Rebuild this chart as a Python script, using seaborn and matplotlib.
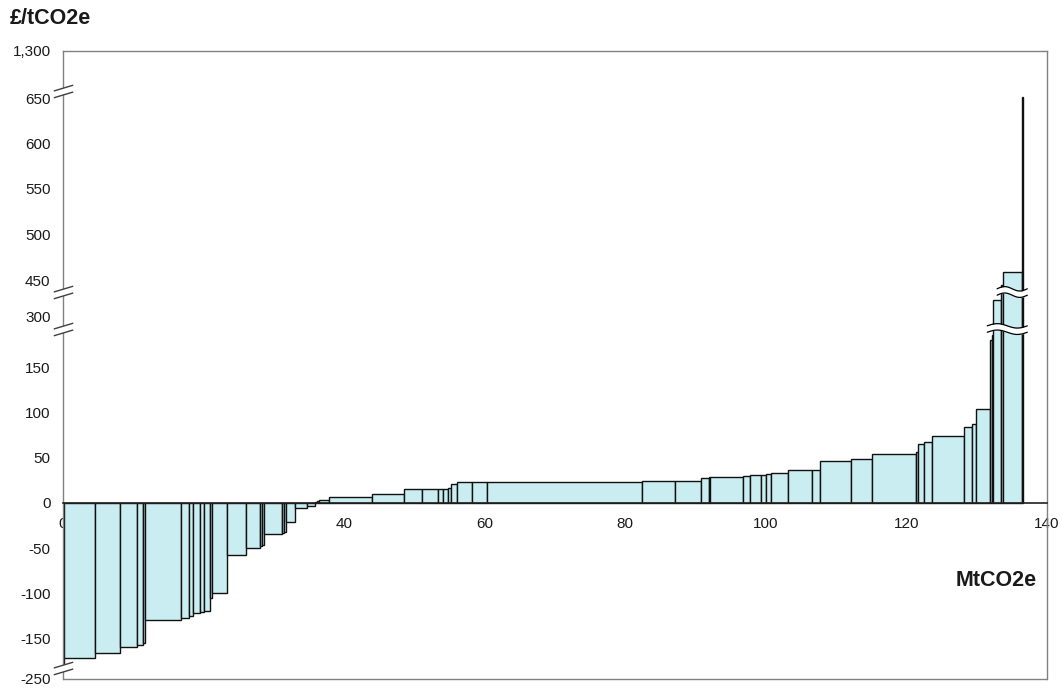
import numpy as np
import pandas as pd
import matplotlib
matplotlib.use("Agg")
import matplotlib.pyplot as plt
from matplotlib.path import Path
import seaborn as sns

# abatement of each measure (MtCO2e), in cost order
abatement = [0.18, 4.32, 3.55, 2.48, 0.85, 0.33, 5.08, 1.13, 0.57, 0.94,
             0.67, 0.75, 0.39, 2.09, 2.74, 1.90, 0.28, 0.29, 2.61, 0.33,
             0.24, 1.22, 1.74, 1.21, 0.18, 0.29, 1.52, 6.07, 4.53, 2.59,
             2.27, 0.66, 0.71, 0.48, 0.80, 2.27, 2.05, 22.05, 4.70, 3.78,
             1.05, 0.19, 4.69, 1.04, 1.56, 0.67, 0.67, 2.50, 3.33, 1.18,
             4.46, 2.98, 6.18, 0.28, 0.94, 1.14, 4.55, 1.05, 0.57, 2.08,
             0.17, 0.21, 1.18, 0.20, 2.71, 0.18]
# cost of each measure (£/tCO2e)
cost = [-212, -198, -185, -172, -166, -162, -130, -127, -125, -122,
        -121, -120, -105, -100, -58, -50, -48, -46, -34, -33,
        -32, -21, -6, -3.5, 1.5, 2.6, 3.7, 7, 10.2, 15.5,
        15.2, 15.5, 15.8, 17, 20.5, 23, 23, 23.2, 24, 24,
        27.7, 28.3, 28.8, 30, 31, 31.2, 32.5, 32.7, 36, 36.5,
        47, 49, 54.6, 56, 65, 67, 74.6, 84.5, 88, 104.3,
        230, 245, 367, 430, 459, 665]

x_ticks = [0, 20, 40, 60, 80, 100, 120, 140]
y_ticks = [-250, -150, -100, -50, 0, 50, 100, 150, 300, 450, 500, 550, 600, 650, 1300]
y_labels = ["-250", "-150", "-100", "-50", "0", "50", "100", "150", "300",
            "450", "500", "550", "600", "650", "1,300"]
axis_breaks = [750, 400, 262, -222]

# broken y axis -> piecewise linear scale
seg_vals = [-250, -150, 150, 300, 450, 650, 1300]
seg_pos = [0, 40.5, 311.5, 363, 399, 581, 628]


def fwd(v):
    return np.interp(v, seg_vals, seg_pos)


def inv(p):
    return np.interp(p, seg_pos, seg_vals)


sns.set_theme(style="white")
plt.rcParams["font.family"] = ["Liberation Sans", "DejaVu Sans"]

fig = plt.figure(figsize=(10.62, 6.88), dpi=100)
ax = fig.add_axes([63 / 1062, 9 / 688, 984 / 1062, 628 / 688])
ax.set_yscale("function", functions=(fwd, inv))

edges = np.concatenate([[0], np.cumsum(abatement)])
df = pd.DataFrame({"mid": edges[:-1] + np.array(abatement) / 2, "cost": cost})
sns.histplot(data=df, x="mid", weights="cost", bins=edges.tolist(), stat="count",
             color="#C9EDF0", edgecolor="#111111", linewidth=1.0, alpha=1, ax=ax)

ax.set_xlim(0, 140)
ax.set_ylim(-250, 1300)
ax.set_xticks(x_ticks)
ax.set_yticks(y_ticks)
ax.set_yticklabels(y_labels)
ax.set_xlabel("")
ax.set_ylabel("")
ax.tick_params(axis="both", length=0, labelsize=11, colors="#1a1a1a")
ax.tick_params(axis="x", pad=10)
ax.tick_params(axis="y", pad=9)

for s in ["left", "top", "right"]:
    ax.spines[s].set_color("#808080")
    ax.spines[s].set_linewidth(1)
ax.spines["bottom"].set_position(("data", 0))
ax.spines["bottom"].set_color("#202020")
ax.spines["bottom"].set_linewidth(1.2)
ax.plot([0, 1], [0, 0], transform=ax.transAxes, color="#808080", lw=1, clip_on=False)

# wavy breaks across the tall bars
for yb, x0, x1 in [(400, 132.9, 137.2), (262, 131.5, 137.2)]:
    xs = np.linspace(x0, x1, 60)
    w = 2.2 * np.sin(2 * np.pi * (xs - x0) / (x1 - x0))
    lo = inv(fwd(yb) - 3.2 + w)
    hi = inv(fwd(yb) + 3.2 + w)
    ax.fill_between(xs, lo, hi, color="white", lw=0, zorder=4)
    ax.plot(xs, lo, color="black", lw=0.9, zorder=5)
    ax.plot(xs, hi, color="black", lw=0.9, zorder=5)

# break marks on the y axis
slash = Path([(-1, -0.65), (1, -0.05), (-1, 0.05), (1, 0.65)],
             [Path.MOVETO, Path.LINETO, Path.MOVETO, Path.LINETO])
gap = Path([(-1, -0.65), (1, -0.05), (1, 0.65), (-1, 0.05), (-1, -0.65)],
           [Path.MOVETO, Path.LINETO, Path.LINETO, Path.LINETO, Path.CLOSEPOLY])
for yb in axis_breaks:
    ax.plot([0], [yb], marker=gap, ms=14, mfc="white", mec="white", mew=0,
            ls="none", clip_on=False, zorder=6)
    ax.plot([0], [yb], marker=slash, ms=14, mfc="none", mec="#404040", mew=1,
            ls="none", clip_on=False, zorder=7)

fig.text(10 / 1062, 1 - 19 / 688, "£/tCO2e", ha="left", va="center",
         fontsize=15.5, fontweight="bold", color="#1a1a1a")
fig.text(1037 / 1062, 1 - 580 / 688, "MtCO2e", ha="right", va="center",
         fontsize=15.5, fontweight="bold", color="#1a1a1a")

fig.savefig("out.png", dpi=100)
